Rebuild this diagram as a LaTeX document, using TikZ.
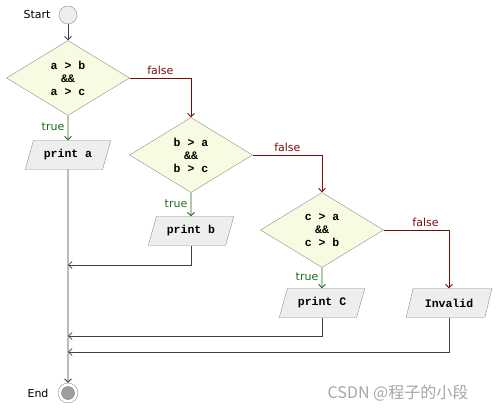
\documentclass[tikz,border=0pt]{standalone}
\usepackage{fontspec}
\setmainfont{DejaVu Sans}
\setmonofont{Liberation Mono}
\newfontfamily\cjk{Noto Sans CJK SC}
\usetikzlibrary{shapes.geometric,arrows.meta}
\definecolor{dfill}{HTML}{F8FBE2}
\definecolor{pfill}{HTML}{EEEEEE}
\definecolor{bord}{HTML}{8E8E8E}
\definecolor{lgrey}{HTML}{404040}
\definecolor{fred}{HTML}{7A0A0A}
\definecolor{tgreen}{HTML}{1E6B1E}
\tikzset{
  x=1pt, y=-1pt,
  tip/.style={-{Straight Barb[length=3.5pt,width=7pt]}},
  cond/.style={diamond, draw=bord, fill=dfill, shape aspect=1.64, inner sep=0pt,
    minimum width=123pt, minimum height=75pt, align=center,
    font=\ttfamily\bfseries\fontsize{11.5}{13}\selectfont},
  io/.style={trapezium, trapezium left angle=65, trapezium right angle=115,
    trapezium stretches=true,
    draw=bord, fill=pfill, minimum width=86pt, minimum height=29pt, inner sep=1pt,
    font=\ttfamily\bfseries\fontsize{11.5}{12}\selectfont},
  flow/.style={tip, draw=lgrey, line width=0.75pt},
  fline/.style={tip, draw=fred, line width=0.75pt},
  tline/.style={tip, draw=tgreen, line width=0.75pt},
  flbl/.style={text=fred, font=\fontsize{11}{13}\selectfont},
  tlbl/.style={text=tgreen, font=\fontsize{11}{13}\selectfont},
  lbl/.style={font=\fontsize{11}{13}\selectfont}
}
\begin{document}
\begin{tikzpicture}
\useasboundingbox (0,0) rectangle (500,411);
\node (start) [circle, draw=bord, fill=pfill, minimum size=18pt, inner sep=0pt] at (68,15) {};
\node (startlbl) [lbl, anchor=east] at (54,15) {Start};

\node (d1) [cond] at (68,78) {a > b\\\&\&\\a > c};
\node (pa) [io] at (68,155) {print a};

\node (d2) [cond] at (191,155) {b > a\\\&\&\\b > c};
\node (pb) [io] at (191,231) {print b};

\node (d3) [cond] at (322,230) {c > a\\\&\&\\c > b};
\node (pc) [io] at (322,303) {print C};
\node (inv) [io] at (449,303) {Invalid};

\node (endo) [circle, draw=bord, fill=white, minimum size=20pt, inner sep=0pt] at (68,393) {};
\node (endi) [circle, draw=gray, fill=gray!75, minimum size=13pt, inner sep=0pt] at (68,393) {};
\node (endlbl) [lbl, anchor=east] at (52,393) {End};

\coordinate (j1) at (68,265);
\coordinate (j2) at (68,336);
\coordinate (j3) at (68,352);

\draw[flow] (start) -- (d1);
\draw[tline] (d1.south) -- node[tlbl, left, yshift=1pt] {true} (pa.north);
\draw[fline] (d1.east) -| node[flbl, pos=0.25, above] {false} (d2.north);
\draw[tline] (d2.south) -- node[tlbl, left, yshift=1pt] {true} (pb.north);
\draw[fline] (d2.east) -| node[flbl, pos=0.25, above] {false} (d3.north);
\draw[tline] (d3.south) -- node[tlbl, left, yshift=1pt] {true} (pc.north);
\draw[fline] (d3.east) -| node[flbl, pos=0.32, above] {false} (inv.north);

\draw[flow] (pa.south) -- (endo.north);
\draw[flow] (pb.south) |- (j1);
\draw[flow] (pc.south) |- (j2);
\draw[flow] (inv.south) |- (j3);

\node (wm) [text=gray!70, font=\cjk\fontsize{16}{18}\selectfont] at (398,393) {CSDN @程子的小段};
\end{tikzpicture}
\end{document}
